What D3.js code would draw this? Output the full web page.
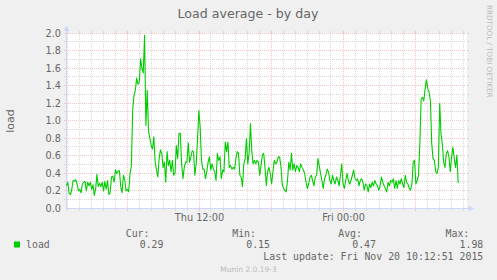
<!DOCTYPE html>
<html>
<head>
<meta charset="utf-8">
<script src="https://cdn.jsdelivr.net/npm/d3@7"></script>
<style>
  body { margin: 0; background: #f0f0f0; }
  svg { display: block; }
  text { fill: #666; font-family: "DejaVu Sans", sans-serif; }
  .mono { font-family: "DejaVu Sans Mono", monospace; font-size: 9.9px; }
</style>
</head>
<body>
<svg width="497" height="280"></svg>
<script>
// graph window and sampling
let startTime = new Date(2015, 10, 19, 0, 55);
let endTime = new Date(2015, 10, 20, 10, 15);
let stepSeconds = 397;

// load average, one value per sample
let load = [
  0.26, 0.30, 0.17, 0.16, 0.22, 0.32, 0.31, 0.33, 0.28, 0.20,
  0.22, 0.18, 0.28, 0.30, 0.31, 0.20, 0.30, 0.26, 0.30, 0.22,
  0.27, 0.15, 0.22, 0.39, 0.25, 0.29, 0.25, 0.30, 0.20, 0.31,
  0.22, 0.32, 0.16, 0.18, 0.36, 0.37, 0.30, 0.44, 0.40, 0.43,
  0.43, 0.25, 0.18, 0.38, 0.33, 0.20, 0.22, 0.19, 0.40, 0.48,
  1.12, 1.29, 1.35, 1.49, 1.42, 1.44, 1.71, 1.60, 1.55, 1.98,
  0.95, 1.35, 0.89, 0.80, 0.72, 0.68, 0.82, 0.53, 0.44, 0.36,
  0.57, 0.67, 0.63, 0.47, 0.53, 0.30, 0.65, 0.49, 0.55, 0.42,
  0.55, 0.38, 0.40, 0.72, 0.57, 0.86, 0.86, 0.51, 0.34, 0.47,
  0.53, 0.53, 0.75, 0.53, 0.59, 0.66, 0.65, 0.38, 0.51, 0.78,
  1.12, 0.93, 0.55, 0.45, 0.45, 0.34, 0.42, 0.53, 0.59, 0.44,
  0.51, 0.45, 0.42, 0.32, 0.63, 0.55, 0.59, 0.34, 0.44, 0.42,
  0.76, 0.65, 0.76, 0.47, 0.49, 0.45, 0.47, 0.45, 0.57, 0.65,
  0.63, 0.38, 0.36, 0.25, 0.51, 0.57, 0.80, 0.51, 0.63, 0.97,
  0.66, 0.51, 0.55, 0.51, 0.55, 0.53, 0.38, 0.49, 0.61, 0.63,
  0.47, 0.26, 0.42, 0.47, 0.40, 0.28, 0.42, 0.55, 0.51, 0.53,
  0.59, 0.59, 0.49, 0.28, 0.23, 0.21, 0.19, 0.32, 0.53, 0.44,
  0.63, 0.44, 0.51, 0.42, 0.49, 0.47, 0.42, 0.51, 0.47, 0.44,
  0.40, 0.30, 0.23, 0.28, 0.36, 0.38, 0.32, 0.26, 0.36, 0.38,
  0.57, 0.49, 0.40, 0.32, 0.23, 0.34, 0.38, 0.45, 0.42, 0.32,
  0.28, 0.38, 0.32, 0.28, 0.36, 0.32, 0.26, 0.38, 0.51, 0.28,
  0.23, 0.32, 0.40, 0.32, 0.28, 0.32, 0.38, 0.44, 0.34, 0.32,
  0.34, 0.26, 0.32, 0.34, 0.30, 0.21, 0.28, 0.26, 0.19, 0.28,
  0.24, 0.30, 0.26, 0.32, 0.28, 0.26, 0.21, 0.26, 0.36, 0.30,
  0.26, 0.23, 0.19, 0.30, 0.26, 0.32, 0.30, 0.34, 0.23, 0.32,
  0.23, 0.32, 0.28, 0.34, 0.28, 0.24, 0.38, 0.30, 0.28, 0.23,
  0.21, 0.28, 0.53, 0.55, 0.28, 0.32, 0.38, 0.74, 1.25, 1.27,
  1.23, 1.37, 1.47, 1.37, 1.33, 1.23, 0.74, 0.57, 0.55, 0.42,
  0.40, 0.47, 1.20, 0.85, 0.74, 0.53, 0.47, 0.63, 0.66, 0.59,
  0.42, 0.59, 0.70, 0.57, 0.47, 0.61, 0.29
];

// y axis labels
let yLabels = [0, 0.2, 0.4, 0.6, 0.8, 1.0, 1.2, 1.4, 1.6, 1.8, 2.0];

// legend
let statNames = ['Cur:', 'Min:', 'Avg:', 'Max:'];
let statValues = [0.29, 0.15, 0.47, 1.98];
let lastUpdate = 'Last update: Fri Nov 20 10:12:51 2015';

let data = load.map((v, i) => ({ t: new Date(startTime.getTime() + i * stepSeconds * 1000), v: v }));

let x = d3.scaleTime().domain([startTime, endTime]).range([66, 466]);
let y = d3.scaleLinear().domain([0, 2]).range([208, 33]);
let px = (t) => Math.floor(x(t)) + 0.5;
let py = (v) => Math.floor(y(v) + 1e-6) + 0.5;

let svg = d3.select('svg');

svg.append('rect')
  .attr('x', 66).attr('y', 33)
  .attr('width', 401).attr('height', 176)
  .attr('fill', '#fff');

let grid = svg.append('g').attr('shape-rendering', 'crispEdges');

function hGrid(values, color) {
  values.forEach((v) => {
    let yy = py(v);
    grid.append('line').attr('x1', 66).attr('x2', 466).attr('y1', yy).attr('y2', yy)
      .attr('stroke', color).attr('stroke-dasharray', '1,1');
    grid.append('line').attr('x1', 64).attr('x2', 66).attr('y1', yy).attr('y2', yy).attr('stroke', color);
    grid.append('line').attr('x1', 467).attr('x2', 469).attr('y1', yy).attr('y2', yy).attr('stroke', color);
  });
}

function vGrid(times, color) {
  times.forEach((t) => {
    let xx = px(t);
    grid.append('line').attr('x1', xx).attr('x2', xx).attr('y1', 33).attr('y2', 208)
      .attr('stroke', color).attr('stroke-dasharray', '1,1');
    grid.append('line').attr('x1', xx).attr('x2', xx).attr('y1', 31).attr('y2', 33).attr('stroke', color);
    grid.append('line').attr('x1', xx).attr('x2', xx).attr('y1', 209).attr('y2', 211).attr('stroke', color);
  });
}

let minorY = d3.range(1, 20).filter((i) => i % 2 === 1).map((i) => i / 10);
let hours = x.ticks(d3.timeHour.every(1));
let sixHours = x.ticks(d3.timeHour.every(6));
let minorX = hours.filter((t) => t.getHours() % 6 !== 0);

hGrid(minorY, '#d8d8d8');
vGrid(minorX, '#d8d8d8');
hGrid(yLabels.slice(1), '#f2c4c4');
vGrid(sixHours, '#f2c4c4');

// axes in light blue with arrows
let axisColor = '#cfd6f8';
grid.append('line').attr('x1', 66.5).attr('x2', 66.5).attr('y1', 208.5).attr('y2', 28)
  .attr('stroke', axisColor);
grid.append('line').attr('x1', 66).attr('x2', 471).attr('y1', 208.5).attr('y2', 208.5)
  .attr('stroke', axisColor);
svg.append('path').attr('d', 'M63.5,31 L66.5,25.5 L69.5,31 Z').attr('fill', axisColor);
svg.append('path').attr('d', 'M468.5,205.5 L474,208.5 L468.5,211.5 Z').attr('fill', axisColor);

// data line
let line = d3.line().x((d) => x(d.t) + 0.5).y((d) => y(d.v) + 0.5);
svg.append('path')
  .datum(data)
  .attr('d', line)
  .attr('fill', 'none')
  .attr('stroke', '#00cc00')
  .attr('stroke-width', 1.1)
  .attr('stroke-linejoin', 'round');

// y labels
svg.append('g').selectAll('text')
  .data(yLabels)
  .join('text')
  .attr('x', 61)
  .attr('y', (d) => py(d) + 3.5)
  .attr('text-anchor', 'end')
  .style('font-size', '9.72px')
  .text((d) => d3.format('.1f')(d));

// x labels
let fmt = d3.timeFormat('%a %H:%M');
svg.append('g').selectAll('text')
  .data(x.ticks(d3.timeHour.every(12)))
  .join('text')
  .attr('x', (d) => px(d))
  .attr('y', 220.5)
  .attr('text-anchor', 'middle')
  .style('font-size', '9.72px')
  .text((d) => fmt(d));

// title and side texts
svg.append('text').attr('x', 248).attr('y', 18).attr('text-anchor', 'middle')
  .style('font-size', '12.6px').text('Load average - by day');

svg.append('text').attr('transform', 'translate(14,121) rotate(-90)')
  .attr('text-anchor', 'middle').style('font-size', '11px').text('load');

svg.append('text').attr('transform', 'translate(487,5) rotate(90)')
  .attr('text-anchor', 'start').style('font-size', '7.2px').style('fill', '#bbb')
  .text('RRDTOOL / TOBI OETIKER');

// legend
let statX = [163.5, 270, 376, 483.3];
svg.append('g').selectAll('text')
  .data(statNames)
  .join('text')
  .attr('class', 'mono')
  .attr('x', (d, i) => statX[i] - 14)
  .attr('y', 236.5)
  .attr('text-anchor', 'end')
  .text((d) => d);

svg.append('g').selectAll('text')
  .data(statValues)
  .join('text')
  .attr('class', 'mono')
  .attr('x', (d, i) => statX[i])
  .attr('y', 247.5)
  .attr('text-anchor', 'end')
  .text((d) => d3.format('.2f')(d));

svg.append('rect').attr('x', 14).attr('y', 241.5).attr('width', 6).attr('height', 6)
  .attr('fill', '#00cc00');
svg.append('text').attr('class', 'mono').attr('x', 26).attr('y', 247.5).text('load');

svg.append('text').attr('class', 'mono').attr('x', 483.3).attr('y', 259.5)
  .attr('text-anchor', 'end').text(lastUpdate);

svg.append('text').attr('x', 248.5).attr('y', 271.5).attr('text-anchor', 'middle')
  .style('font-size', '7.5px').style('fill', '#bbb').text('Munin 2.0.19-3');
</script>
</body>
</html>
